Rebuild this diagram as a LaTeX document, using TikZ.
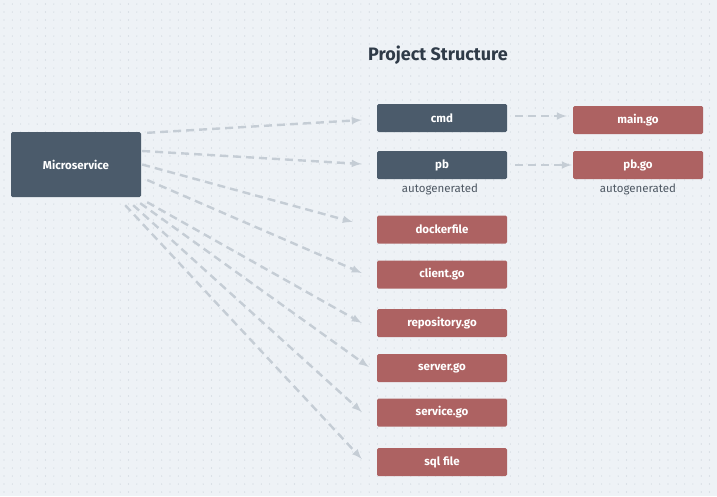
\documentclass[tikz,border=0pt]{standalone}
\usepackage{tikz}
\usepackage{xcolor}
\usepackage{fontspec}
\setmainfont{Fira Sans}
\definecolor{bgpaper}{HTML}{EEF2F6}
\definecolor{griddot}{HTML}{C9D0D8}
\definecolor{slatebox}{HTML}{4B5B6B}
\definecolor{redbox}{HTML}{AD6262}
\definecolor{linkgray}{HTML}{C5CDD5}
\definecolor{inkdark}{HTML}{2F3B48}

\begin{document}
\begin{tikzpicture}[x=1pt,y=-1pt,
  folder/.style={fill=slatebox,text=white,font=\bfseries\fontsize{11.5}{13}\selectfont,minimum width=130pt,minimum height=28pt,rounded corners=1.5pt,inner sep=0pt},
  gofile/.style={folder,fill=redbox},
  link/.style={linkgray,line width=2.4pt,dash pattern=on 8pt off 5pt,-latex},
  note/.style={text=inkdark!85,font=\fontsize{11.5}{13}\selectfont}]
\fill[bgpaper] (0,0) rectangle (717,496);
\useasboundingbox (0,0) rectangle (717,496);
\foreach \i in {0,...,86}
  \foreach \j in {0,...,61}
    \fill[griddot] (4+\i*8.3,4+\j*8) circle (0.55);
\node[text=inkdark,font=\bfseries\fontsize{18}{21}\selectfont] (title) at (438,55) {Project Structure};
\node[folder,minimum height=65pt] (micro) at (76,164.5) {Microservice};
\node[folder] (cmd) at (442,118) {cmd};
\node[folder] (pb) at (442,165) {pb};
\node[note] (pbnote) at (440,189) {autogenerated};
\node[gofile] (maingo) at (638,120) {main.go};
\node[gofile] (pbgo) at (638,165) {pb.go};
\node[note] (pbgonote) at (638,189) {autogenerated};
\node[gofile] (docker) at (442,229.5) {dockerfile};
\node[gofile] (client) at (442,274.5) {client.go};
\node[gofile] (repo) at (442,323) {repository.go};
\node[gofile] (server) at (442,368) {server.go};
\node[gofile] (service) at (442,412.5) {service.go};
\node[gofile] (sql) at (442,462) {sql file};
% microservice to its parts
\draw[link] ([xshift=6pt,yshift=-1pt]micro.north east) -- ([xshift=-15pt,yshift=-2pt]cmd.west);
\draw[link] ([xshift=1pt,yshift=13.5pt]micro.east) -- ([xshift=-15pt,yshift=1pt]pb.west);
\draw[link] ([xshift=1pt]micro.east) -- ([xshift=-24pt,yshift=7.5pt]docker.west);
\draw[link] ([xshift=6pt,yshift=-15.5pt]micro.east) -- ([xshift=-15pt,yshift=1.5pt]client.west);
\draw[link] ([xshift=6pt,yshift=-5pt]micro.south east) -- ([xshift=-15pt]repo.west);
\draw[link] ([xshift=-1pt,yshift=-6pt]micro.south east) -- ([xshift=-8pt,yshift=1pt]server.west);
\draw[link] ([xshift=-8pt,yshift=-8pt]micro.south east) -- ([xshift=-15pt,yshift=0.5pt]service.west);
\draw[link] ([xshift=-16pt,yshift=-8pt]micro.south east) -- ([xshift=-15pt,yshift=3pt]sql.west);
% folders to files
\draw[link] ([xshift=8pt,yshift=2pt]cmd.east) -- ([xshift=-6pt,yshift=4pt]maingo.west);
\draw[link] ([xshift=8pt]pb.east) -- ([xshift=-1pt]pbgo.west);
\end{tikzpicture}
\end{document}
